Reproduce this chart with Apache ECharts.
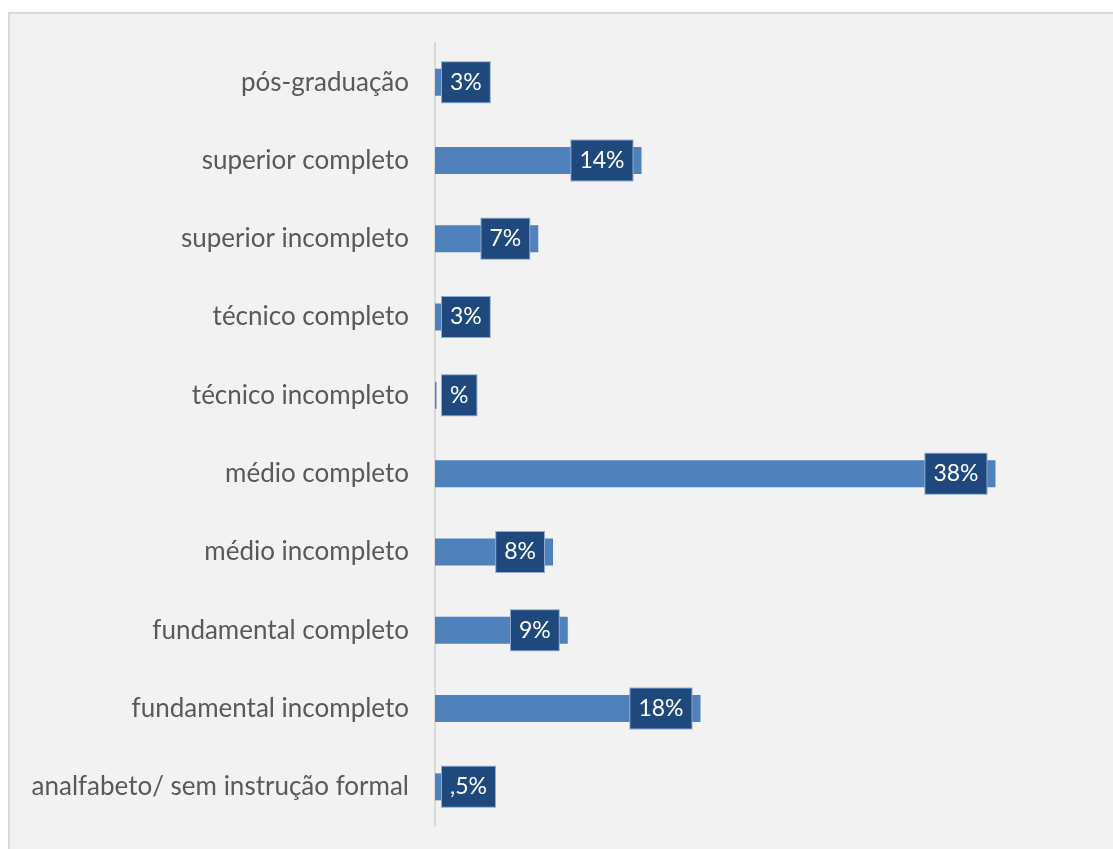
<!DOCTYPE html>
<html>
<head>
<meta charset="utf-8">
<script src="https://cdn.jsdelivr.net/npm/echarts@6/dist/echarts.min.js"></script>
<style>
  html, body { margin: 0; padding: 0; background: #ffffff; }
  #frame {
    position: absolute; left: 8px; top: 12px; width: 1200px; height: 900px;
    background: #f2f2f2; border: 2px solid #d9d9d9; box-sizing: border-box;
  }
  #chart { position: absolute; left: 0; top: 0; width: 1113px; height: 849px; }
</style>
</head>
<body>
<div id="frame"></div>
<div id="chart"></div>
<script>
// Escolaridade, listed top to bottom
const categories = [
  'pós-graduação',
  'superior completo',
  'superior incompleto',
  'técnico completo',
  'técnico incompleto',
  'médio completo',
  'médio incompleto',
  'fundamental completo',
  'fundamental incompleto',
  'analfabeto/ sem instrução formal'
];
// Share of respondents, in percent
const values = [3, 14, 7, 3, 0.1, 38, 8, 9, 18, 0.5];
// Label texts as printed on the bars
const labelTexts = ['3%', '14%', '7%', '3%', '%', '38%', '8%', '9%', '18%', ',5%'];

const chart = echarts.init(document.getElementById('chart'), null, { renderer: 'canvas' });

const font = 'Lato, "Open Sans", sans-serif';

const seriesData = values.map(function (v, i) {
  const small = v < 5;
  return {
    value: v,
    label: {
      position: small ? 'insideLeft' : 'insideRight',
      distance: small ? 7 : 9
    }
  };
});

chart.setOption({
  backgroundColor: 'transparent',
  animation: false,
  grid: { left: 435, right: 88, top: 43, bottom: 23, containLabel: false },
  xAxis: {
    type: 'value', min: 0, max: 40, interval: 10,
    show: false
  },
  yAxis: {
    type: 'category',
    data: categories,
    inverse: true,
    axisLine: { show: true, lineStyle: { color: '#d9d9d9', width: 2 } },
    axisTick: { show: false },
    axisLabel: {
      color: '#595959', fontSize: 26, fontFamily: font, margin: 26
    },
    splitLine: { show: false }
  },
  series: [{
    type: 'bar',
    data: seriesData,
    barWidth: 27,
    itemStyle: { color: '#4f81bd' },
    label: {
      show: true,
      formatter: function (p) { return labelTexts[p.dataIndex]; },
      color: '#ffffff',
      fontSize: 23,
      lineHeight: 26,
      fontFamily: font,
      backgroundColor: '#1f497d',
      borderColor: '#8eaad0',
      borderWidth: 1,
      padding: [8, 8, 6, 8]
    }
  }]
});
</script>
</body>
</html>
